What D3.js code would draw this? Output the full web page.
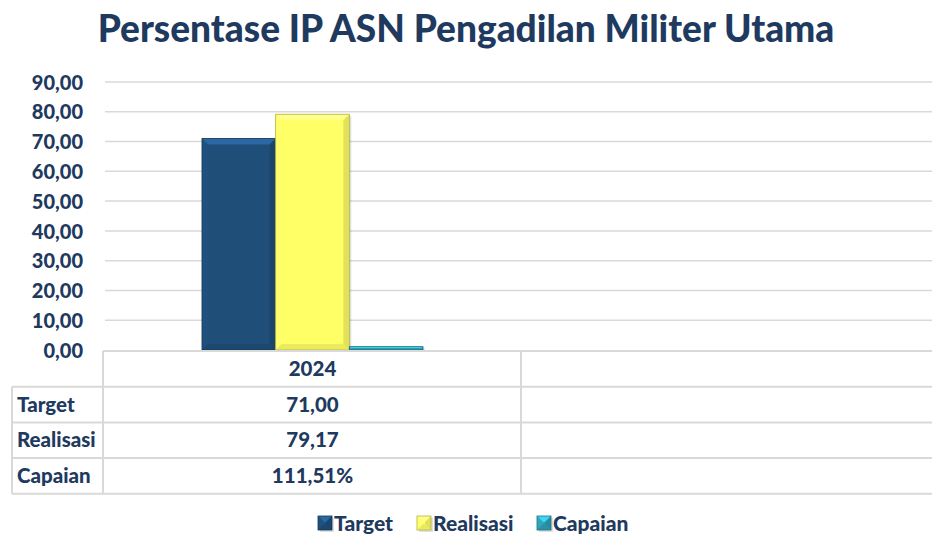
<!DOCTYPE html>
<html>
<head>
<meta charset="utf-8">
<script src="https://cdn.jsdelivr.net/npm/d3@7"></script>
<style>
  body { margin: 0; background: #fff; }
  svg { display: block; font-family: Lato, "Open Sans", sans-serif; font-weight: 900; }
</style>
</head>
<body>
<script>
// data
const categories = ["2024", ""];
const seriesNames = ["Target", "Realisasi", "Capaian"];
const target = [71.00, null];
const realisasi = [79.17, null];
const capaian = [1.1151, null];          // 111,51% plotted as ratio
const tableTarget = ["71,00", ""];
const tableRealisasi = ["79,17", ""];
const tableCapaian = ["111,51%", ""];
const yTicks = [0, 10, 20, 30, 40, 50, 60, 70, 80, 90];
const title = "Persentase IP ASN Pengadilan Militer Utama";

const colors = { Target: "#1f4e79", Realisasi: "#ffff66", Capaian: "#2e9fb5" };
const ink = "#1f3a5f";
const grid = "#d9d9d9";

const W = 932, H = 536;
const svg = d3.select("body").append("svg").attr("width", W).attr("height", H);

// scales
const x0 = d3.scaleBand().domain(categories).range([104, 938]);
const x1 = d3.scaleBand().domain(seriesNames).range([0, x0.bandwidth()])
    .paddingInner(0).paddingOuter(1.33);
const y = d3.scaleLinear().domain([0, 90]).range([350, 82]);

// fit a text element to a given width by changing its font size
function fit(sel, size, width) {
    sel.style("font-size", size + "px");
    const w = sel.node().getComputedTextLength();
    sel.style("font-size", (size * width / w) + "px");
    return sel;
}

// title
svg.append("text")
    .attr("x", 466).attr("y", 42)
    .attr("text-anchor", "middle")
    .attr("fill", ink)
    .text(title)
    .call(fit, 34, 737);

// gridlines
svg.append("g")
    .selectAll("line")
    .data(yTicks.slice(1))
    .join("line")
    .attr("x1", 105).attr("x2", W)
    .attr("y1", d => y(d)).attr("y2", d => y(d))
    .attr("stroke", grid).attr("stroke-width", 1.5);

// y axis labels
const yAxis = svg.append("g")
    .attr("transform", "translate(96,0)")
    .call(d3.axisLeft(y).tickValues(yTicks).tickSize(0).tickPadding(13)
        .tickFormat(d => d3.format(".2f")(d).replace(".", ",")));
yAxis.select(".domain").remove();
yAxis.selectAll("text")
    .attr("fill", ink)
    .attr("dy", "0.36em")
    .style("font-size", "20px")
    .style("font-family", "Lato, sans-serif")
    .style("font-weight", "900");

// bars with bevel
const series = [
    { name: "Target", values: target },
    { name: "Realisasi", values: realisasi },
    { name: "Capaian", values: capaian }
];

function bevel(g, x, yTop, w, h, base) {
    const c = d3.color(base);
    const b = Math.min(6, h / 2, w / 2);
    if (b >= 1) {
        g.append("rect").attr("x", x + 2).attr("y", yTop + 2).attr("width", w).attr("height", h)
            .attr("fill", "#000").attr("opacity", 0.12);
    }
    g.append("rect").attr("x", x).attr("y", yTop).attr("width", w).attr("height", h).attr("fill", base);
    if (b < 1) return;
    const x2 = x + w, y2 = yTop + h;
    const poly = (pts, fill, op) => g.append("polygon")
        .attr("points", pts.map(p => p.join(",")).join(" "))
        .attr("fill", fill).attr("opacity", op);
    poly([[x, yTop], [x2, yTop], [x2 - b, yTop + b], [x + b, yTop + b]], c.brighter(0.9), 0.9);
    poly([[x, yTop], [x + b, yTop + b], [x + b, y2 - b], [x, y2]], c.brighter(0.2), 0.6);
    poly([[x2, yTop], [x2, y2], [x2 - b, y2 - b], [x2 - b, yTop + b]], c.darker(0.6), 0.6);
    poly([[x, y2], [x + b, y2 - b], [x2 - b, y2 - b], [x2, y2]], c.darker(0.5), 0.5);
    g.append("rect").attr("x", x).attr("y", yTop).attr("width", w).attr("height", h)
        .attr("fill", "none").attr("stroke", c.darker(1)).attr("stroke-width", 0.8);
}

const barG = svg.append("g");
series.forEach(s => {
    s.values.forEach((v, i) => {
        if (v == null) return;
        const bx = x0(categories[i]) + x1(s.name);
        const h = Math.max(y(0) - y(v), 1);
        bevel(barG, bx, y(0) - h, x1.bandwidth(), h, colors[s.name]);
    });
});

// data table
const rowTop = 351, rowH = 35.7;
const rows = [
    { label: "", values: categories },
    { label: "Target", values: tableTarget },
    { label: "Realisasi", values: tableRealisasi },
    { label: "Capaian", values: tableCapaian }
];
const tbl = svg.append("g");
const lineStyle = sel => sel.attr("stroke", grid).attr("stroke-width", 2);
tbl.append("line").attr("x1", 103).attr("x2", W).attr("y1", rowTop).attr("y2", rowTop).call(lineStyle);
rows.forEach((r, k) => {
    const yb = rowTop + rowH * (k + 1);
    tbl.append("line").attr("x1", 12).attr("x2", W).attr("y1", yb).attr("y2", yb).call(lineStyle);
});
tbl.append("line").attr("x1", 12).attr("x2", 12)
    .attr("y1", rowTop + rowH).attr("y2", rowTop + rowH * 4).call(lineStyle);
[103, x0(categories[1])].forEach(xv => {
    tbl.append("line").attr("x1", xv).attr("x2", xv)
        .attr("y1", rowTop).attr("y2", rowTop + rowH * 4).call(lineStyle);
});
rows.forEach((r, k) => {
    const yc = rowTop + rowH * k + rowH / 2 + 7;
    tbl.append("text").attr("x", 17).attr("y", yc).attr("fill", ink)
        .style("font-size", "20.5px").text(r.label);
    r.values.forEach((v, i) => {
        tbl.append("text").attr("x", x0(categories[i]) + x0.bandwidth() / 2).attr("y", yc)
            .attr("text-anchor", "middle").attr("fill", ink)
            .style("font-size", "20.5px").text(v);
    });
});

// legend
const legendX = [318, 417, 537];
const leg = svg.append("g");
seriesNames.forEach((n, i) => {
    const g = leg.append("g");
    bevel(g, legendX[i], 516, 14, 14, colors[n]);
    g.append("text").attr("x", legendX[i] + 16).attr("y", 530.5)
        .attr("fill", ink).style("font-size", "21px").text(n);
});
</script>
</body>
</html>
